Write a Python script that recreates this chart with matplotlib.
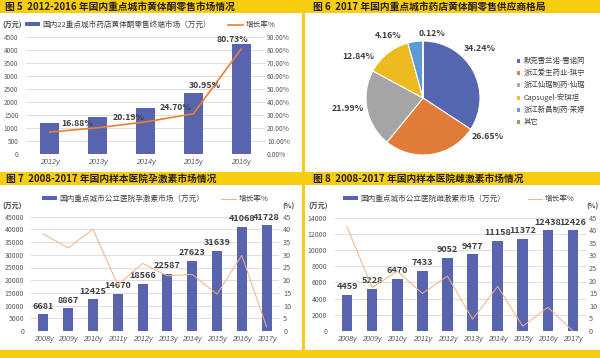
import matplotlib.pyplot as plt
from matplotlib.patches import Rectangle
from matplotlib.ticker import FuncFormatter

plt.rcParams['font.family'] = ['Noto Sans CJK SC', 'DejaVu Sans']

W, H = 600, 358
YELLOW = '#F7CD12'
BAR = '#5865AE'
TXT = '#404040'
TICK = '#595959'
GRID = '#D9D9D9'

# ---- 图5 data
fig5_years = ['2012y', '2013y', '2014y', '2015y', '2016y']
fig5_sales = [1180, 1420, 1780, 2330, 4220]
fig5_growth = [16.88, 20.19, 24.70, 30.95, 80.73]
fig5_label_off = [(27, 9), (31, 10), (30, 14), (12, 28), (-9, 10)]

# ---- 图6 data
fig6_names = ['默克雪兰诺-雪诺同', '浙江爱生药业-琪宁', '浙江仙琚制药-仙琚',
              'Capsugel-安琪坦', '浙江新昌制药-来婷', '其它']
fig6_share = [34.24, 26.65, 21.99, 12.84, 4.16, 0.12]
fig6_colors = ['#5566B0', '#E07B39', '#A5A5A5', '#EDBA1F', '#5B9BD5', '#70AD47']
fig6_label_xy = [(1.0, 0.86), (1.14, -0.68), (-1.32, -0.18),
                 (-1.14, 0.72), (-0.61, 1.10), (0.16, 1.14)]

# ---- 图7 data
fig7_years = ['2008y', '2009y', '2010y', '2011y', '2012y',
              '2013y', '2014y', '2015y', '2016y', '2017y']
fig7_sales = [6681, 8867, 12425, 14670, 18566, 22587, 27623, 31639, 41068, 41728]
fig7_growth = [38.2, 32.7, 40.1, 18.1, 26.6, 21.7, 22.3, 14.5, 29.8, 1.6]

# ---- 图8 data
fig8_years = fig7_years
fig8_sales = [4459, 5228, 6470, 7433, 9052, 9477, 11158, 11372, 12438, 12426]
fig8_growth = [41.4, 17.2, 23.8, 14.9, 21.8, 4.7, 17.7, 1.9, 9.4, 0.0]


def px_box(x0, y0, x1, y1):
    # pixel box (from top-left) -> figure fraction rect
    return [x0 / W, 1 - y1 / H, (x1 - x0) / W, (y1 - y0) / H]


def fpos(x, y):
    return x / W, 1 - y / H


def style_axes(ax, ax2, left_pad, right_pad, fs):
    for a in (ax, ax2):
        for s in a.spines.values():
            s.set_visible(False)
    ax.tick_params(axis='y', length=0, pad=left_pad, labelsize=fs, labelcolor=TICK)
    ax2.tick_params(axis='y', length=0, pad=right_pad, labelsize=fs + 0.2, labelcolor=TICK)
    ax.tick_params(axis='x', length=0, pad=3.5)
    for lab in ax.get_xticklabels():
        lab.set_fontfamily('Liberation Sans')
        lab.set_fontstyle('italic')
        lab.set_fontsize(5.2)
        lab.set_color(TICK)
    ax.grid(axis='y', color=GRID, linewidth=0.6)
    ax.set_axisbelow(True)


def add_legend(fig, handles, labels, x, y, colspace):
    fig.legend(handles, labels, loc='center left', bbox_to_anchor=fpos(x, y),
               ncols=2, frameon=False, fontsize=5.5, labelcolor=TXT,
               handlelength=1.95, handleheight=0.5, handletextpad=0.35,
               columnspacing=colspace, borderpad=0, borderaxespad=0)


def chart5(fig):
    ax = fig.add_axes(px_box(26, 37, 265, 154))
    xs = range(len(fig5_years))
    bars = ax.bar(xs, fig5_sales, width=0.4, color=BAR)
    ax.set_xlim(-0.5, len(xs) - 0.5)
    ax.set_ylim(0, 4500)
    ax.set_yticks(range(0, 4501, 500))
    ax.set_xticks(list(xs), fig5_years)
    ax2 = ax.twinx()
    g = [v / 100 for v in fig5_growth]
    line, = ax2.plot(xs, g, color='#ED7D31', linewidth=1.2)
    ax2.set_ylim(0, 0.9)
    ax2.set_yticks([i / 10 for i in range(10)])
    ax2.yaxis.set_major_formatter(FuncFormatter(lambda v, p: f'{v * 100:.2f}%'))
    style_axes(ax, ax2, 5.5, 1.5, 4.6)
    for i, (v, off) in enumerate(zip(g, fig5_label_off)):
        ax2.annotate(f'{fig5_growth[i]:.2f}%', xy=(i, v), xytext=off,
                     textcoords='offset pixels', ha='center', va='center',
                     fontsize=6.3, fontweight='bold', color=TXT)
    fig.text(*fpos(2, 25), '(万元)', fontsize=5, fontweight='bold', color=TXT, va='center')
    add_legend(fig, [bars, line], ['国内22重点城市药店黄体酮零售终端市场（万元）', '增长率%'],
               25, 25, 2.2)


def chart6(fig):
    r = 57
    ax = fig.add_axes(px_box(423 - 95, 98 - 80, 423 + 95, 98 + 80))
    ax.set_facecolor('none')
    wedges, _ = ax.pie(fig6_share, colors=fig6_colors, startangle=90, counterclock=False,
                       wedgeprops=dict(edgecolor='white', linewidth=0.8))
    ax.set_xlim(-95 / r, 95 / r)
    ax.set_ylim(-80 / r, 80 / r)
    for v, (x, y) in zip(fig6_share, fig6_label_xy):
        ax.text(x, y, f'{v:.2f}%', ha='center', va='center', fontsize=6.3,
                fontweight='bold', color=TXT)
    fig.legend(wedges, fig6_names, loc='upper left', bbox_to_anchor=fpos(516, 57),
               frameon=False, fontsize=5.3, labelcolor=TXT, handlelength=0.6,
               handleheight=0.6, handletextpad=0.4, labelspacing=0.55,
               borderpad=0, borderaxespad=0)


def chart_bars(fig, box, years, sales, growth, ymax, ystep, width, pads, legend_x, legend_text, colspace, unit_x, pct_x):
    ax = fig.add_axes(px_box(*box))
    xs = range(len(years))
    bars = ax.bar(xs, sales, width=width, color=BAR)
    ax.bar_label(bars, padding=2.5, fontsize=6.5, fontweight='bold', color=TXT)
    ax.set_xlim(-0.5, len(xs) - 0.5)
    ax.set_ylim(0, ymax)
    ax.set_yticks(range(0, ymax + 1, ystep))
    ax.set_xticks(list(xs), years)
    ax2 = ax.twinx()
    line, = ax2.plot(xs, growth, color='#F4B183', linewidth=0.7)
    ax2.set_ylim(0, 45)
    ax2.set_yticks(range(0, 46, 5))
    style_axes(ax, ax2, pads[0], pads[1], 5.0)
    fig.text(*fpos(unit_x, 206), '(万元)', fontsize=5, fontweight='bold', color=TXT, va='center')
    fig.text(*fpos(pct_x, 206), '(%)', fontsize=5, fontweight='bold', color=TXT, va='center')
    add_legend(fig, [bars, line], [legend_text, '增长率%'], legend_x, 199, colspace)


def main():
    fig = plt.figure(figsize=(W / 100, H / 100), dpi=100, facecolor=YELLOW)
    for x0, y0, x1, y1 in [(0, 13, 302, 172), (305, 13, 600, 172),
                           (0, 185, 302, 350), (305, 185, 600, 350)]:
        fig.add_artist(Rectangle((x0 / W, 1 - y1 / H), (x1 - x0) / W, (y1 - y0) / H,
                                 transform=fig.transFigure, facecolor='white',
                                 edgecolor='none', zorder=0))
    titles = [(5, 7, '图 5  2012-2016 年国内重点城市黄体酮零售市场情况'),
              (313, 7, '图 6  2017 年国内重点城市药店黄体酮零售供应商格局'),
              (6, 179, '图 7  2008-2017 年国内样本医院孕激素市场情况'),
              (313, 179, '图 8  2008-2017 年国内样本医院雌激素市场情况')]
    for x, y, t in titles:
        fig.text(*fpos(x, y), t, fontsize=7, fontweight='bold', color='#231F20', va='center')

    chart5(fig)
    chart6(fig)
    chart_bars(fig, (31, 216.7, 279, 331), fig7_years, fig7_sales, fig7_growth,
               45000, 5000, 0.4, (5, 3), 42, '国内重点城市公立医院孕激素市场（万元）',
               2.2, 2, 282)
    chart_bars(fig, (334.5, 217.7, 585.5, 331), fig8_years, fig8_sales, fig8_growth,
               14000, 2000, 0.42, (5.4, 2.5), 343, '国内重点城市公立医院雌激素市场（万元）',
               2.9, 308, 586)
    fig.savefig('out.png', dpi=100, facecolor=YELLOW)


if __name__ == '__main__':
    main()
